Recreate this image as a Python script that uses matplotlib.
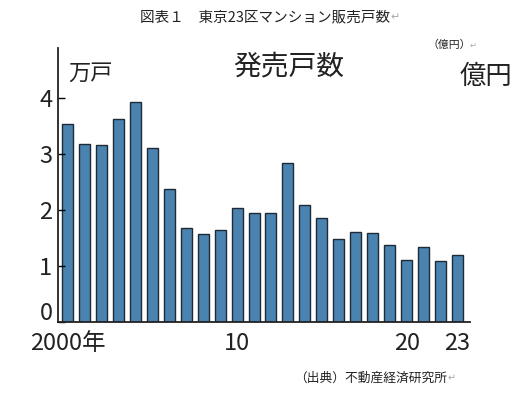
#!/usr/bin/env python3
# -*- coding: utf-8 -*-

import matplotlib
matplotlib.use('Agg')
import matplotlib.pyplot as plt
import matplotlib.transforms as mtransforms

# données : 東京23区マンション販売戸数 (万戸)
years = list(range(2000, 2024))
units = [3.53, 3.18, 3.16, 3.63, 3.92, 3.10, 2.37, 1.67, 1.57, 1.64,
         2.04, 1.95, 1.95, 2.83, 2.08, 1.85, 1.48, 1.60, 1.59, 1.38,
         1.10, 1.33, 1.08, 1.20]
xtick_years = [2000, 2010, 2020, 2023]
xtick_labels = ['2000年', '10', '20', '23']
yticks = [0, 1, 2, 3, 4]

JP = ['Noto Sans CJK JP', 'DejaVu Sans']


def main():
    plt.rcParams['font.family'] = JP

    fig = plt.figure(figsize=(5.19, 3.96), dpi=100)
    ax = fig.add_axes([0.1118, 0.1869, 0.7938, 0.6919])

    idx = [y - years[0] for y in years]
    ax.bar(idx, units, width=0.65, color='#4a82b0',
           edgecolor='#1e2a36', linewidth=1.0)

    ax.set_xlim(-0.56, 23.74)
    ax.set_ylim(0, 4.89)

    for s in ['top', 'right']:
        ax.spines[s].set_visible(False)
    for s in ['left', 'bottom']:
        ax.spines[s].set_linewidth(1.3)
        ax.spines[s].set_color('#222222')

    ax.set_yticks(yticks)
    ax.set_yticklabels([str(v) for v in yticks], fontsize=17,
                       color='#222222')
    ax.tick_params(axis='y', direction='in', length=5, width=1.0, pad=4)
    # le "0" est un peu remonté au-dessus de la ligne de base
    lbl0 = ax.get_yticklabels()[0]
    lbl0.set_transform(lbl0.get_transform() +
                       mtransforms.ScaledTranslation(0, 8 / 72, fig.dpi_scale_trans))

    ax.set_xticks([y - years[0] for y in xtick_years])
    ax.set_xticklabels(xtick_labels, fontsize=17, color='#222222')
    ax.tick_params(axis='x', length=0, pad=7)

    # textes
    fig.text(0.270, 0.957, '図表１　東京23区マンション販売戸数', fontsize=10.5,
             color='#222222', va='center', ha='left')
    fig.text(0.752, 0.957, '↵', fontsize=8, color='#aaaaaa', va='center',
             ha='left', family=['DejaVu Sans'])
    fig.text(0.824, 0.886, '（億円）', fontsize=7.8, color='#222222',
             va='center', ha='left')
    fig.text(0.905, 0.886, '↵', fontsize=6, color='#aaaaaa', va='center',
             ha='left', family=['DejaVu Sans'])
    fig.text(0.131, 0.815, '万戸', fontsize=16, color='#222222',
             va='center', ha='left')
    fig.text(0.449, 0.832, '発売戸数', fontsize=20, color='#222222',
             va='center', ha='left')
    fig.text(0.886, 0.808, '億円', fontsize=19, color='#222222',
             va='center', ha='left')
    fig.text(0.566, 0.045, '（出典）不動産経済研究所', fontsize=9.2,
             color='#222222', va='center', ha='left')
    fig.text(0.862, 0.045, '↵', fontsize=7, color='#aaaaaa', va='center',
             ha='left', family=['DejaVu Sans'])

    fig.savefig('out.png', dpi=100)


if __name__ == "__main__":
    main()
